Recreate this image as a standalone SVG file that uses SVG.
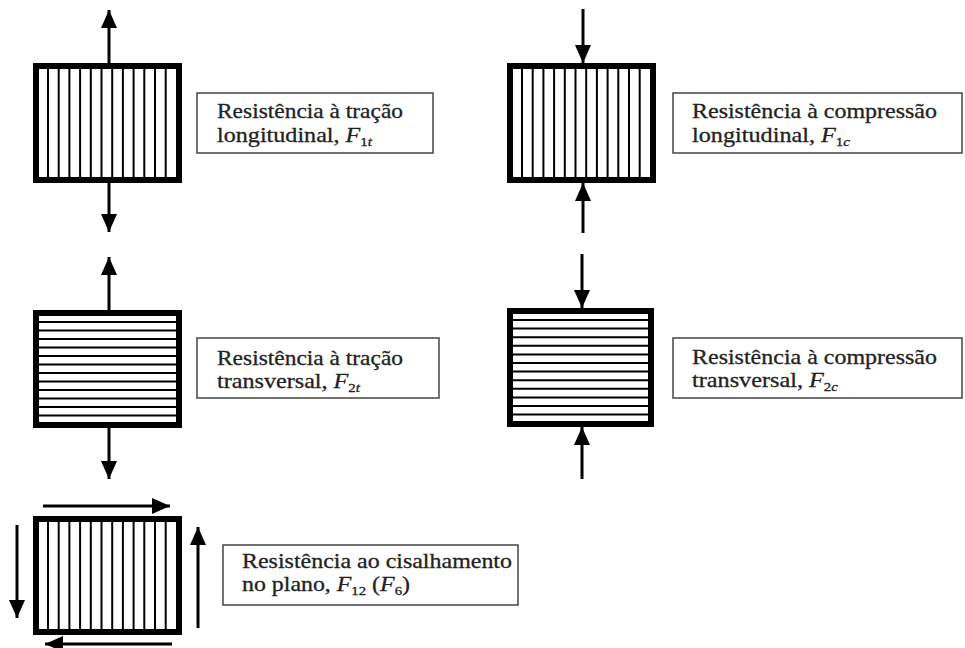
<svg xmlns="http://www.w3.org/2000/svg" width="965" height="648" viewBox="0 0 965 648">
<style>
.frame{fill:#fff;stroke:#000;stroke-width:6}
.edge{fill:none;stroke:#000;stroke-width:6}
.hatch{stroke:#000;stroke-width:2}
.lbl{fill:#fff;stroke:#444;stroke-width:1.5}
.t{font-family:"Liberation Serif","Times New Roman",serif;font-size:21px;fill:#222;stroke:#222;stroke-width:0.3}
.it{font-style:italic}
.sub{font-size:13px}
.arr{stroke:#000;stroke-width:3;fill:none;marker-end:url(#ah)}
</style>
<defs>
<marker id="ah" viewBox="0 0 18 16" refX="18" refY="8" markerWidth="18" markerHeight="16" markerUnits="userSpaceOnUse" orient="auto">
<path d="M0,0 L18,8 L0,16 Z" fill="#000"/>
</marker>
</defs>

<g id="node-tracao-long">
<rect class="frame" x="36" y="66" width="143" height="114"/>
<path class="hatch" d="M48,66V180M58.7,66V180M69.4,66V180M80.1,66V180M90.8,66V180M101.5,66V180M112.2,66V180M122.9,66V180M133.6,66V180M144.3,66V180M155,66V180M165.7,66V180"/>
<rect class="edge" x="36" y="66" width="143" height="114"/>
</g>
<g id="label-tracao-long">
<rect class="lbl" x="197" y="93" width="236" height="60"/>
<text class="t" x="217" y="118" textLength="186" lengthAdjust="spacingAndGlyphs">Resistência à tração</text>
<text class="t" x="217" y="142" textLength="155" lengthAdjust="spacingAndGlyphs">longitudinal, <tspan class="it">F</tspan><tspan class="sub" dy="4">1</tspan><tspan class="sub it">t</tspan></text>
</g>

<g id="node-compressao-long">
<rect class="frame" x="510" y="66" width="143" height="114"/>
<path class="hatch" d="M522,66V180M532.7,66V180M543.4,66V180M554.1,66V180M564.8,66V180M575.5,66V180M586.2,66V180M596.9,66V180M607.6,66V180M618.3,66V180M629,66V180M639.7,66V180"/>
<rect class="edge" x="510" y="66" width="143" height="114"/>
</g>
<g id="label-compressao-long">
<rect class="lbl" x="673" y="93" width="289" height="60"/>
<text class="t" x="692" y="118" textLength="245" lengthAdjust="spacingAndGlyphs">Resistência à compressão</text>
<text class="t" x="692" y="142" textLength="158" lengthAdjust="spacingAndGlyphs">longitudinal, <tspan class="it">F</tspan><tspan class="sub" dy="4">1</tspan><tspan class="sub it">c</tspan></text>
</g>

<g id="node-tracao-transv">
<rect class="frame" x="36" y="313" width="143" height="112"/>
<path class="hatch" d="M36,322H179M36,330.5H179M36,339H179M36,347.5H179M36,356H179M36,364.5H179M36,373H179M36,381.5H179M36,390H179M36,398.5H179M36,407H179M36,415.5H179"/>
<rect class="edge" x="36" y="313" width="143" height="112"/>
</g>
<g id="label-tracao-transv">
<rect class="lbl" x="197" y="338" width="242" height="60"/>
<text class="t" x="217" y="365" textLength="186" lengthAdjust="spacingAndGlyphs">Resistência à tração</text>
<text class="t" x="217" y="388" textLength="143" lengthAdjust="spacingAndGlyphs">transversal, <tspan class="it">F</tspan><tspan class="sub" dy="4">2</tspan><tspan class="sub it">t</tspan></text>
</g>

<g id="node-compressao-transv">
<rect class="frame" x="510" y="311" width="141" height="113"/>
<path class="hatch" d="M510,320H651M510,328.6H651M510,337.2H651M510,345.8H651M510,354.4H651M510,363H651M510,371.6H651M510,380.2H651M510,388.8H651M510,397.4H651M510,406H651M510,414.6H651"/>
<rect class="edge" x="510" y="311" width="141" height="113"/>
</g>
<g id="label-compressao-transv">
<rect class="lbl" x="673" y="338" width="289" height="60"/>
<text class="t" x="692" y="364" textLength="245" lengthAdjust="spacingAndGlyphs">Resistência à compressão</text>
<text class="t" x="692" y="387" textLength="146" lengthAdjust="spacingAndGlyphs">transversal, <tspan class="it">F</tspan><tspan class="sub" dy="4">2</tspan><tspan class="sub it">c</tspan></text>
</g>

<g id="node-cisalhamento">
<rect class="frame" x="36" y="519" width="143" height="113"/>
<path class="hatch" d="M48,519V632M58.7,519V632M69.4,519V632M80.1,519V632M90.8,519V632M101.5,519V632M112.2,519V632M122.9,519V632M133.6,519V632M144.3,519V632M155,519V632M165.7,519V632"/>
<rect class="edge" x="36" y="519" width="143" height="113"/>
</g>
<g id="label-cisalhamento">
<rect class="lbl" x="223" y="545" width="295" height="60"/>
<text class="t" x="242" y="568" textLength="270" lengthAdjust="spacingAndGlyphs">Resistência ao cisalhamento</text>
<text class="t" x="242" y="591" textLength="168" lengthAdjust="spacingAndGlyphs">no plano, <tspan class="it">F</tspan><tspan class="sub" dy="4">12</tspan><tspan dy="-4"> (</tspan><tspan class="it">F</tspan><tspan class="sub" dy="4">6</tspan><tspan dy="-4">)</tspan></text>
</g>

<g id="connectors">
<line class="arr" x1="109" y1="63" x2="109" y2="10"/>
<line class="arr" x1="109" y1="183" x2="109" y2="232"/>
<line class="arr" x1="583" y1="9" x2="583" y2="63"/>
<line class="arr" x1="583" y1="233" x2="583" y2="183"/>
<line class="arr" x1="109" y1="310" x2="109" y2="257"/>
<line class="arr" x1="109" y1="428" x2="109" y2="479"/>
<line class="arr" x1="582" y1="254" x2="582" y2="308"/>
<line class="arr" x1="582" y1="479" x2="582" y2="427"/>
<line class="arr" x1="43" y1="506" x2="170" y2="506"/>
<line class="arr" x1="172" y1="644" x2="45" y2="644"/>
<line class="arr" x1="17" y1="525" x2="17" y2="618"/>
<line class="arr" x1="198" y1="628" x2="198" y2="527"/>
</g>
</svg>
